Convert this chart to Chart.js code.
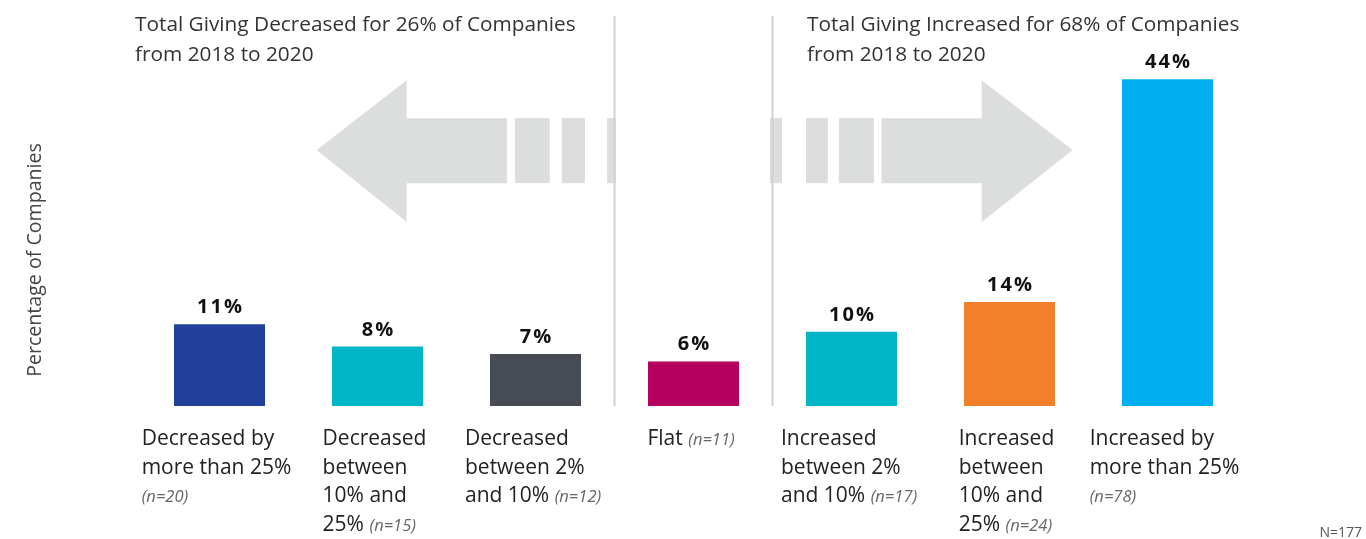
<!DOCTYPE html>
<html><head><meta charset="utf-8">
<script src="https://cdn.jsdelivr.net/npm/chart.js@4"></script>
<style>html,body{margin:0;padding:0;background:#fff;overflow:hidden}</style>
</head><body>
<canvas id="c" width="1366" height="539" style="width:1366px;height:539px;display:block"></canvas>
<script>
// ---- data ----
const categories = ["Decreased by more than 25%", "Decreased between 10% and 25%", "Decreased between 2% and 10%", "Flat", "Increased between 2% and 10%", "Increased between 10% and 25%", "Increased by more than 25%"];
const labelLines = [
  ["Decreased by", "more than 25%", ""],
  ["Decreased", "between", "10% and", "25%"],
  ["Decreased", "between 2%", "and 10%"],
  ["Flat"],
  ["Increased", "between 2%", "and 10%"],
  ["Increased", "between", "10% and", "25%"],
  ["Increased by", "more than 25%", ""]
];
const sampleSizes = ["(n=20)", "(n=15)", "(n=12)", "(n=11)", "(n=17)", "(n=24)", "(n=78)"];
const values = [11, 8, 7, 6, 10, 14, 44];
const barColors = ["#21409a", "#00b5c8", "#474b54", "#b5005f", "#00b5c8", "#f2802a", "#00aeef"];
const groupTitles = [
  ["Total Giving Decreased for 26% of Companies", "from 2018 to 2020"],
  ["Total Giving Increased for 68% of Companies", "from 2018 to 2020"]
];
const yAxisTitle = "Percentage of Companies";
const footnote = "N=177";

const FONT = "'Open Sans', 'Noto Sans', sans-serif";

const decorPlugin = {
  id: 'decor',
  beforeDatasetsDraw(chart) {
    const ctx = chart.ctx, x = chart.scales.x, y = chart.scales.y;
    const x0 = x.getPixelForValue(0), u = x.getPixelForValue(1) - x0;
    const px = v => x0 + v * u, py = v => y.getPixelForValue(v);
    ctx.save();
    ctx.fillStyle = '#dcdddd';
    // left arrow
    ctx.beginPath();
    ctx.moveTo(px(0.615), py(34.45));
    ctx.lineTo(px(1.185), py(43.86));
    ctx.lineTo(px(1.185), py(38.75));
    ctx.lineTo(px(1.82), py(38.75));
    ctx.lineTo(px(1.82), py(30.0));
    ctx.lineTo(px(1.185), py(30.0));
    ctx.lineTo(px(1.185), py(24.76));
    ctx.closePath(); ctx.fill();
    const segs = [[1.87, 2.09], [2.166, 2.313], [2.453, 2.51], [3.484, 3.56], [3.712, 3.85], [3.92, 4.142]];
    segs.forEach(s => ctx.fillRect(px(s[0]), py(38.75), px(s[1]) - px(s[0]), py(30.0) - py(38.75)));
    // right arrow
    ctx.beginPath();
    ctx.moveTo(px(4.19), py(38.75));
    ctx.lineTo(px(4.824), py(38.75));
    ctx.lineTo(px(4.824), py(43.86));
    ctx.lineTo(px(5.4), py(34.45));
    ctx.lineTo(px(4.824), py(24.76));
    ctx.lineTo(px(4.824), py(30.0));
    ctx.lineTo(px(4.19), py(30.0));
    ctx.closePath(); ctx.fill();
    // dividers
    ctx.strokeStyle = '#d2d2d2'; ctx.lineWidth = 2;
    [2.5, 3.5].forEach(v => {
      ctx.beginPath();
      ctx.moveTo(Math.round(px(v)) - 0.5, y.getPixelForValue(y.max));
      ctx.lineTo(Math.round(px(v)) - 0.5, y.getPixelForValue(0));
      ctx.stroke();
    });
    ctx.restore();
  },
  afterDatasetsDraw(chart) {
    const ctx = chart.ctx;
    const meta = chart.getDatasetMeta(0);
    ctx.save();
    // value labels
    ctx.fillStyle = '#111';
    ctx.font = "bold 20px " + FONT;
    ctx.textAlign = 'center'; ctx.textBaseline = 'alphabetic';
    try { ctx.letterSpacing = '2px'; } catch (e) {}
    meta.data.forEach((bar, i) => {
      ctx.fillText(values[i] + '%', bar.x + 1, bar.y - 11);
    });
    try { ctx.letterSpacing = '0px'; } catch (e) {}
    // category labels
    const mainFont = "21px " + FONT, nFont = "italic 16.5px " + FONT;
    ctx.textAlign = 'left';
    meta.data.forEach((bar, i) => {
      const lines = labelLines[i];
      let maxW = 0;
      lines.forEach((l, k) => {
        ctx.font = mainFont;
        let w = ctx.measureText(l).width;
        if (k === lines.length - 1) { ctx.font = nFont; w += (l ? ctx.measureText(' ').width : 0) + ctx.measureText(sampleSizes[i]).width; }
        maxW = Math.max(maxW, w);
      });
      const left = bar.x - maxW / 2 - 3;
      lines.forEach((l, k) => {
        const by = 445 + k * 28.5;
        ctx.font = mainFont; ctx.fillStyle = '#222';
        ctx.fillText(l, left, by);
        if (k === lines.length - 1) {
          const w = l ? ctx.measureText(l + ' ').width : 0;
          ctx.font = nFont; ctx.fillStyle = '#666';
          ctx.fillText(sampleSizes[i], left + w, by);
        }
      });
    });
    // group titles
    ctx.font = "20.8px " + FONT; ctx.fillStyle = '#333';
    const titleX = [135, 807];
    groupTitles.forEach((t, g) => t.forEach((l, k) => ctx.fillText(l, titleX[g], 31 + k * 29.5)));
    // y axis title
    ctx.save();
    ctx.translate(41, 260); ctx.rotate(-Math.PI / 2);
    ctx.textAlign = 'center'; ctx.font = "19.6px " + FONT; ctx.fillStyle = '#444';
    ctx.fillText(yAxisTitle, 0, 0);
    ctx.restore();
    // footnote
    ctx.textAlign = 'right'; ctx.font = "14px " + FONT; ctx.fillStyle = '#555';
    ctx.fillText(footnote, 1362, 537);
    ctx.restore();
  }
};

new Chart(document.getElementById('c'), {
  type: 'bar',
  data: {
    labels: categories,
    datasets: [{ data: values, backgroundColor: barColors, borderWidth: 0, barPercentage: 0.576, categoryPercentage: 1 }]
  },
  options: {
    responsive: false, animation: false, devicePixelRatio: 1,
    layout: { padding: { left: 140.5, right: 119.5, top: 16, bottom: 133 } },
    plugins: { legend: { display: false }, tooltip: { enabled: false }, title: { display: false } },
    scales: {
      x: { display: false, offset: true },
      y: { display: false, min: 0, max: 52.5 }
    }
  },
  plugins: [decorPlugin]
});
</script>
</body></html>
